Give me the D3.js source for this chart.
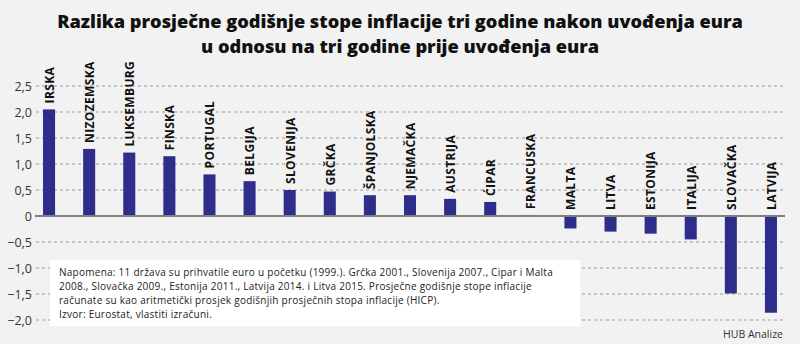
<!DOCTYPE html>
<html><head><meta charset="utf-8">
<script src="https://cdn.jsdelivr.net/npm/d3@7"></script>
<style>
html,body{margin:0;padding:0;background:#f2f2f2;}
svg{display:block;}
</style></head>
<body>
<svg id="chart" width="800" height="344"></svg>
<script>
const countries = ["IRSKA","NIZOZEMSKA","LUKSEMBURG","FINSKA","PORTUGAL","BELGIJA","SLOVENIJA","GRČKA","ŠPANJOLSKA","NJEMAČKA","AUSTRIJA","ĆIPAR","FRANCUSKA","MALTA","LITVA","ESTONIJA","ITALIJA","SLOVAČKA","LATVIJA"];
const values = [2.05,1.29,1.22,1.15,0.80,0.67,0.50,0.47,0.40,0.40,0.33,0.27,0.02,-0.24,-0.30,-0.34,-0.45,-1.49,-1.86];
const yTicks = [2.5,2.0,1.5,1.0,0.5,0,-0.5,-1.0,-1.5,-2.0];
const titleLines = ["Razlika prosječne godišnje stope inflacije tri godine nakon uvođenja eura","u odnosu na tri godine prije uvođenja eura"];
const noteLines = ["Napomena: 11 država su prihvatile euro u početku (1999.). Grčka 2001., Slovenija 2007., Cipar i Malta","2008., Slovačka 2009., Estonija 2011., Latvija 2014. i Litva 2015. Prosječne godišnje stope inflacije","računate su kao aritmetički prosjek godišnjih prosječnih stopa inflacije (HICP).","Izvor: Eurostat, vlastiti izračuni."];
const sourceText = "HUB Analize";

const svg = d3.select("#chart");
const font = "'Open Sans', 'DejaVu Sans', sans-serif";
svg.append("rect").attr("width",800).attr("height",344).attr("fill","#f2f2f2");

const x = d3.scaleBand().domain(countries).range([29, 791]).paddingInner(0.7).paddingOuter(0.35);
const y = d3.scaleLinear().domain([-2, 2.5]).range([320, 86]);

function fitWidth(sel, w){
  sel.each(function(){
    const len = this.getComputedTextLength();
    const fs = parseFloat(d3.select(this).attr("font-size"));
    d3.select(this).attr("font-size", (fs*w/len).toFixed(2));
  });
}

// title
const tl = svg.append("g");
tl.selectAll("text").data(titleLines).join("text")
  .attr("x",400).attr("y",(d,i)=>28+i*25)
  .attr("text-anchor","middle").attr("font-family",font).attr("font-weight",800)
  .attr("font-size",20).attr("fill","#111").text(d=>d);
fitWidth(tl.select("text"), 686);
tl.selectAll("text").attr("font-size", tl.select("text").attr("font-size"));

// y axis
const yAxis = d3.axisLeft(y).tickValues(yTicks).tickSize(0).tickPadding(0)
  .tickFormat(d=> d===0 ? "0" : d3.format(".1f")(d).replace(".",","));
const ga = svg.append("g").attr("transform","translate(32,0)").call(yAxis);
ga.select(".domain").remove();
ga.selectAll("text").attr("font-family",font).attr("font-size",12.5).attr("fill","#333").attr("dy","0.35em");

// grid
svg.append("g").selectAll("line").data(yTicks.filter(d=>d!==0)).join("line")
  .attr("x1",36).attr("x2",785).attr("y1",d=>y(d)).attr("y2",d=>y(d))
  .attr("stroke","#9a9a9a").attr("stroke-width",1).attr("stroke-dasharray","3,3");

// note box
svg.append("rect").attr("x",50).attr("y",260).attr("width",530).attr("height",66).attr("fill","#ffffff");
const nt = svg.append("g");
nt.selectAll("text").data(noteLines).join("text")
  .attr("x",59).attr("y",(d,i)=>276+i*14)
  .attr("font-family",font).attr("font-size",10).attr("fill","#222").text(d=>d);
const first = nt.select("text").node();
const ls = Math.max(0, (494-first.getComputedTextLength())/noteLines[0].length);
nt.selectAll("text").attr("letter-spacing", ls.toFixed(3));

// bars
svg.append("g").selectAll("rect").data(countries).join("rect")
  .attr("x",d=>x(d)).attr("width",x.bandwidth())
  .attr("y",(d,i)=>Math.min(y(values[i]),y(0)))
  .attr("height",(d,i)=>Math.abs(y(values[i])-y(0)))
  .attr("fill","#2e2d8c");

// zero line
svg.append("line").attr("x1",35).attr("x2",785).attr("y1",y(0)).attr("y2",y(0))
  .attr("stroke","#7f7f7f").attr("stroke-width",2);

// labels
svg.append("g").selectAll("text").data(countries).join("text")
  .attr("transform",(d,i)=>`translate(${x(d)+x.bandwidth()/2+0.5},${Math.min(y(values[i]),y(0))-6}) rotate(-90)`)
  .attr("dy","0.36em").attr("text-anchor","start")
  .attr("font-family",font).attr("font-weight",700).attr("font-size",12).attr("letter-spacing",0.35).attr("fill","#111")
  .text(d=>d);

// source
svg.append("text").attr("x",783).attr("y",338).attr("text-anchor","end")
  .attr("font-family",font).attr("font-size",10.5).attr("fill","#333").text(sourceText);
</script>
</body></html>
